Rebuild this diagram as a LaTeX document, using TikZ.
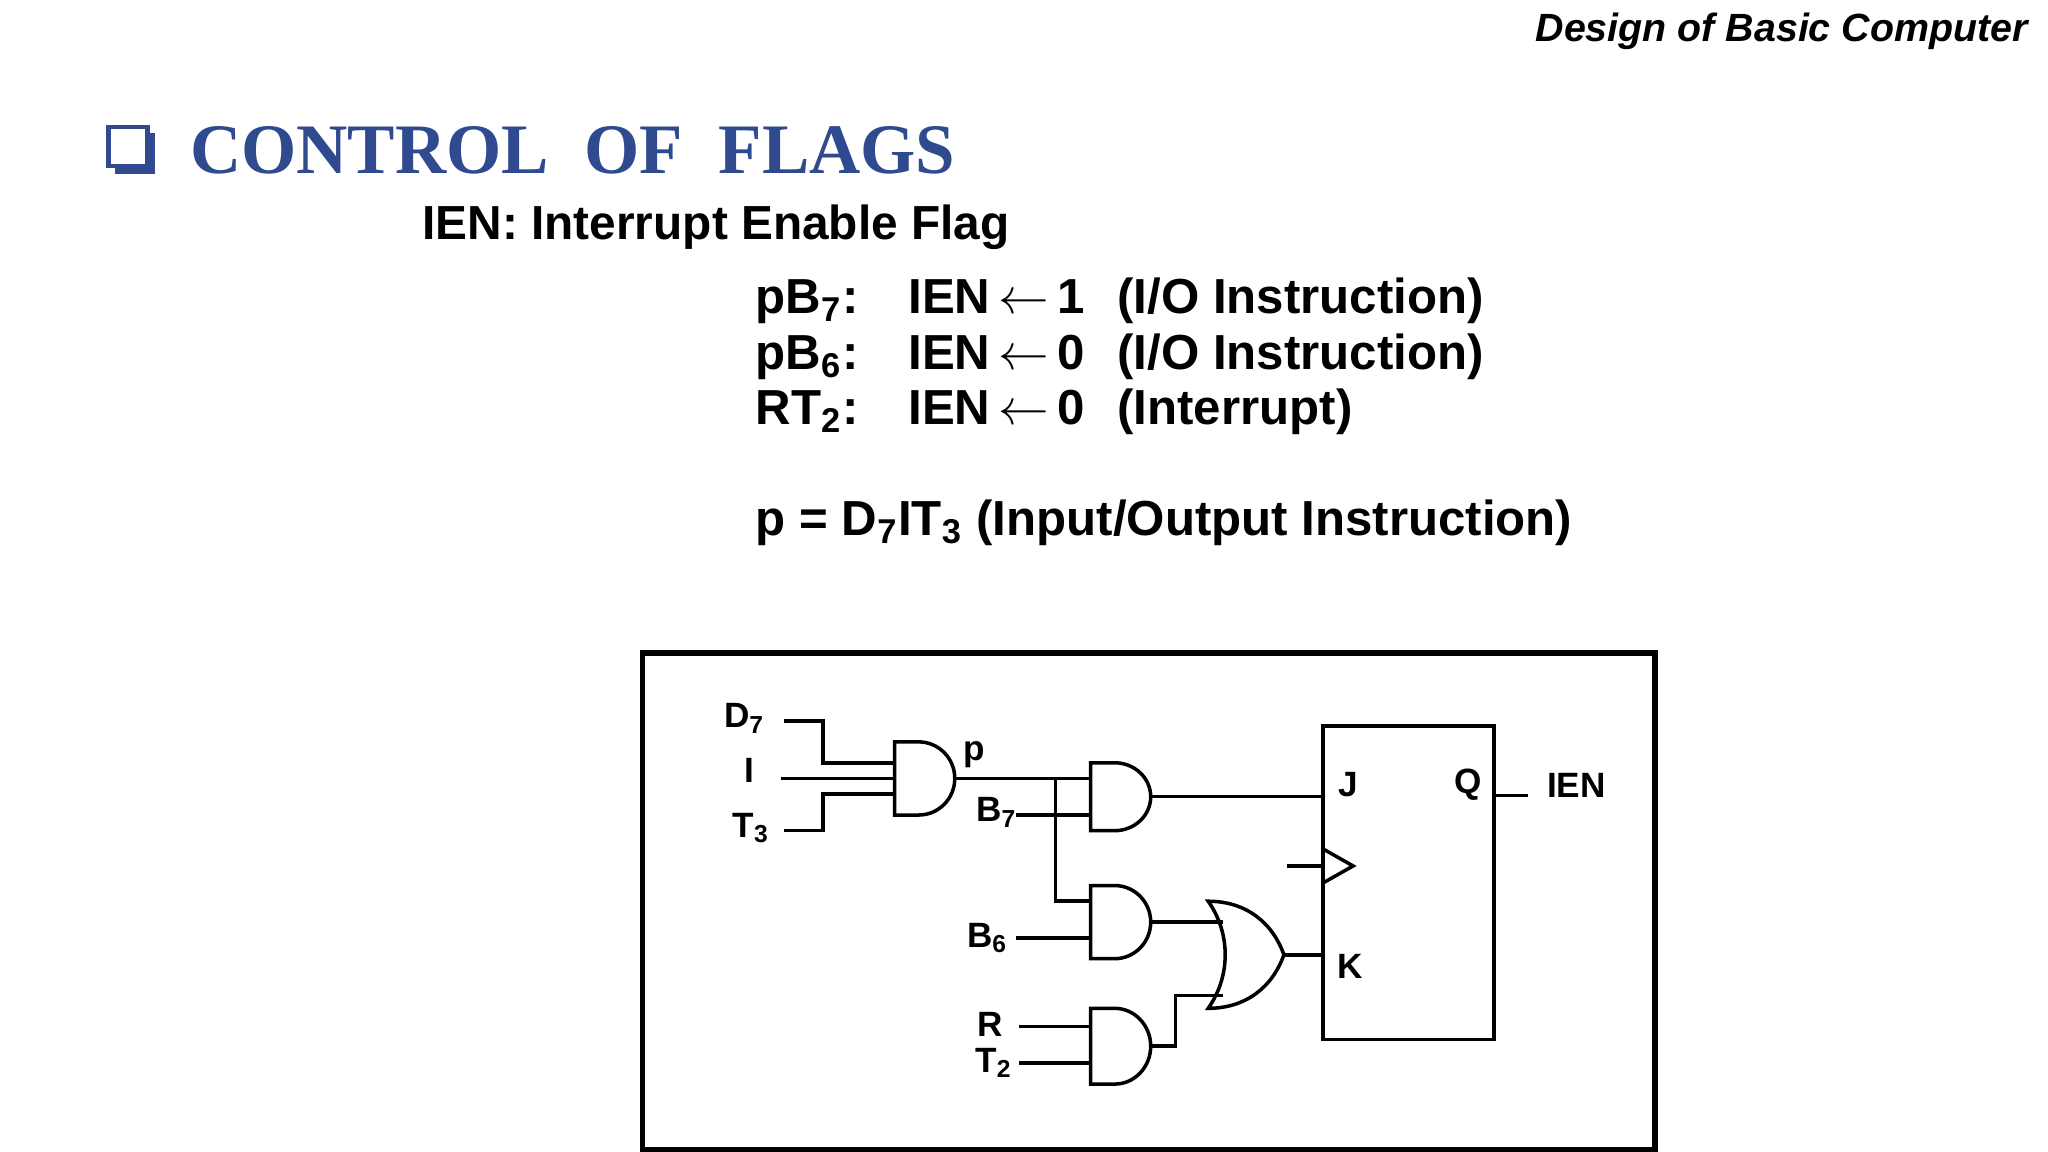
\documentclass[tikz,border=0pt]{standalone}
\usepackage{fontspec}
\setmainfont{Liberation Sans}
\newfontfamily\serifbf{Liberation Serif}
\usetikzlibrary{calc}
\definecolor{titleblue}{RGB}{47,74,143}
\newcommand{\ux}{0.01306cm}
% AND gate: name, x, y (centre), width, height
\newcommand{\andgate}[5]{%
  \draw[wire] ({#2-#4/2},{#3-#5/2}) -- ++({0.4*#4},0)
    arc[start angle=-90, end angle=90, x radius={0.6*#4}, y radius={#5/2}]
    -- ({#2-#4/2},{#3+#5/2}) -- cycle;
  \coordinate (#1-w) at ({#2-#4/2},#3);
  \coordinate (#1-out) at ({#2+#4/2},#3);}
% OR gate: name, x, y (centre), width, height
\newcommand{\orgate}[5]{%
  \draw[wire] ({#2-#4/2},{#3-#5/2})
    .. controls ({#2},{#3-#5/2}) and ({#2+0.35*#4},{#3-0.3*#5}) .. ({#2+#4/2},#3)
    .. controls ({#2+0.35*#4},{#3+0.3*#5}) and ({#2},{#3+#5/2}) .. ({#2-#4/2},{#3+#5/2})
    .. controls ({#2-0.2*#4},{#3+0.2*#5}) and ({#2-0.2*#4},{#3-0.2*#5}) .. cycle;
  \coordinate (#1-w) at ({#2-#4/2+0.2*#4},#3);
  \coordinate (#1-out) at ({#2+#4/2},#3);}
\tikzset{
  wire/.style = {line width=1pt},
  lbl/.style = {font=\fontsize{10}{12}\selectfont\bfseries, inner sep=1pt},
  eq/.style = {font=\fontsize{14}{16}\selectfont\bfseries, anchor=base west, inner sep=0pt}
}
\begin{document}
\begin{tikzpicture}[x=\ux, y=-\ux]
  \useasboundingbox (0,0) rectangle (1568,882);
  % header and title
  \node[anchor=base east, inner sep=0pt, font=\fontsize{11.2}{13}\selectfont\bfseries\itshape] (hdr) at (1553,32) {Design of Basic Computer};
  \fill[titleblue] (88,102) rectangle (119,133);
  \filldraw[fill=white, draw=titleblue, line width=1.2pt] (83,97) rectangle (113,127);
  \node[anchor=base west, inner sep=0pt, text=titleblue, font=\fontsize{20.2}{24}\selectfont\serifbf\bfseries] (title) at (145,133) {CONTROL\ \ OF\ \ FLAGS};
  \node[eq, font=\fontsize{13.6}{16}\selectfont\bfseries] (ien) at (323,183) {IEN: Interrupt Enable Flag};
  % micro-operations
  \node[eq] (c1) at (578,240) {pB\textsubscript{7}:};
  \node[eq] (c2) at (578,283) {pB\textsubscript{6}:};
  \node[eq] (c3) at (578,325) {RT\textsubscript{2}:};
  \node[eq] (m1) at (695,240) {IEN$\,\leftarrow\,$1};
  \node[eq] (m2) at (695,283) {IEN$\,\leftarrow\,$0};
  \node[eq] (m3) at (695,325) {IEN$\,\leftarrow\,$0};
  \node[eq] (r1) at (855,240) {(I/O Instruction)};
  \node[eq] (r2) at (855,283) {(I/O Instruction)};
  \node[eq] (r3) at (855,325) {(Interrupt)};
  \node[eq] (pdef) at (578,410) {p = D\textsubscript{7}IT\textsubscript{3} (Input/Output Instruction)};
  % circuit frame
  \draw[line width=1.5pt] (492,500) rectangle (1267,880);
  % gates
  \andgate{and1}{708}{596}{46}{56}
  \andgate{and2}{858}{610}{46}{52}
  \andgate{and3}{858}{706}{46}{56}
  \andgate{and4}{858}{801}{46}{58}
  \orgate{or1}{954}{731}{58}{82}
  \node[draw, line width=1pt, minimum width={131*\ux}, minimum height={240*\ux}] (ff) at (1078.5,676) {};
  \node[lbl] (jl) at (1032,601) {J};
  \node[lbl] (ql) at (1124,601) {Q};
  \node[lbl] (kl) at (1034,740) {K};
  % input labels
  \node[lbl] (d7) at (570,550) {D\textsubscript{7}};
  \node[lbl] (ii) at (574,590) {I};
  \node[lbl] (t3) at (575,634) {T\textsubscript{3}};
  \node[lbl] (pl) at (746,578) {p};
  \node[lbl] (b7) at (763,622) {B\textsubscript{7}};
  \node[lbl] (b6) at (756,718) {B\textsubscript{6}};
  \node[lbl] (rr) at (758,784) {R};
  \node[lbl] (t2) at (761,814) {T\textsubscript{2}};
  \node[lbl] (ienl) at (1207,601) {IEN};
  \coordinate (d7e) at (600,552);
  \coordinate (iie) at (598,596);
  \coordinate (t3e) at (600,636);
  \coordinate (b7e) at (778,624);
  \coordinate (b6e) at (778,718);
  \coordinate (rre) at (780,786);
  \coordinate (t2e) at (780,814);
  \coordinate (fork) at (808,596);
  \coordinate (clk) at (985,663);
  \coordinate (qo) at (1170,609);
  % wires
  \draw[wire] (d7e) -| (630,584) -- ($(and1-w)+(0,-12)$);
  \draw[wire] (iie) -- (and1-w);
  \draw[wire] (t3e) -| (630,608) -- ($(and1-w)+(0,12)$);
  \draw[wire] (and1-out) -- (and1-out -| and2-w);
  \draw[wire] (b7e) -- (b7e -| and2-w);
  \draw[wire] (fork) |- ($(and3-w)+(0,-16)$);
  \draw[wire] (b6e) -- (b6e -| and3-w);
  \draw[wire] (rre) -- (rre -| and4-w);
  \draw[wire] (t2e) -- (t2e -| and4-w);
  \draw[wire] (and2-out) -- (and2-out -| ff.west);
  \draw[wire] (and3-out) -- (and3-out -| or1-w);
  \draw[wire] (and4-out) -- (900,801) |- ($(or1-w)+(0,31)$);
  \draw[wire] (or1-out) -- (or1-out -| ff.west);
  \draw[wire] (clk) -- (clk -| ff.west);
  \draw[wire] (1013,650) -- (1036,663) -- (1013,676);
  \draw[wire] (qo -| ff.east) -- (qo);
\end{tikzpicture}
\end{document}
